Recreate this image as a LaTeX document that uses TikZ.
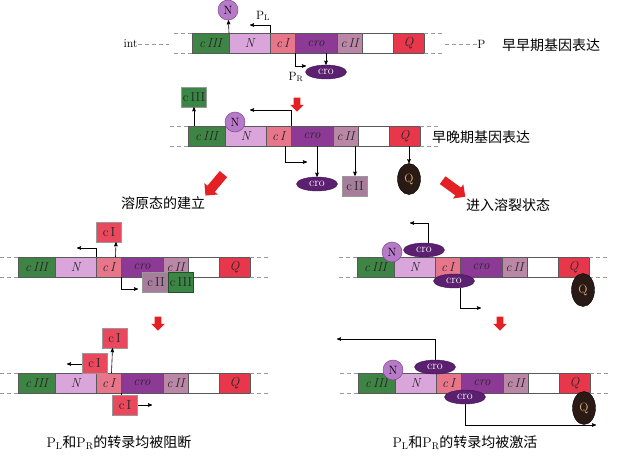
\documentclass[tikz,border=0pt]{standalone}
\usepackage{fontspec}
\newfontfamily\cjk{Noto Sans CJK SC}
\usetikzlibrary{arrows}
\usetikzlibrary{positioning}
\usetikzlibrary{shapes,shapes.geometric,shapes.arrows,calc}
\definecolor{gIII}{RGB}{62,132,68}
\definecolor{gN}{RGB}{218,165,218}
\definecolor{gI}{RGB}{232,118,138}
\definecolor{gcro}{RGB}{140,58,150}
\definecolor{gII}{RGB}{186,136,166}
\definecolor{gQ}{RGB}{232,55,75}
\definecolor{pN}{RGB}{182,122,200}
\definecolor{pcro}{RGB}{92,32,112}
\definecolor{pI}{RGB}{234,72,92}
\definecolor{pII}{RGB}{166,126,156}
\definecolor{pIII}{RGB}{58,134,68}
\definecolor{pQ}{RGB}{42,26,22}
\definecolor{tQ}{RGB}{222,172,112}
\definecolor{redarr}{RGB}{228,32,36}

\begin{document}
\begin{tikzpicture}[x=1pt,y=-1pt,>=stealth',line width=0.6pt,
  gene/.style={draw=gray!70!black,line width=0.4pt,minimum height=20,inner sep=0,outer sep=0,
    text=black!85,font=\fontsize{13}{15}\selectfont\itshape},
  dashline/.style={draw=gray!80,line width=0.5pt,dash pattern=on 4pt off 3pt},
  nprot/.style={circle,fill=pN,draw=pcro!80,line width=0.5pt,minimum size=20,inner sep=0,
    font=\fontsize{12}{14}\selectfont},
  croprot/.style={ellipse,fill=pcro,draw=pcro!70!black,line width=0.4pt,minimum width=41,minimum height=14,
    inner sep=0,text=white,font=\fontsize{12}{14}\selectfont},
  boxprot/.style={draw=black!40,line width=0.4pt,minimum width=25,minimum height=20,inner sep=0,
    text=black!85,font=\fontsize{13}{15}\selectfont},
  qprot/.style={ellipse,fill=pQ,draw=black,line width=0.4pt,minimum width=23,minimum height=31,
    inner sep=0,text=tQ,font=\fontsize{12}{14}\selectfont},
  redarrow/.style={single arrow,fill=redarr,draw=none,inner sep=3pt,minimum height=14,
    single arrow head extend=3.5pt,rotate=270},
  bigarrow/.style={single arrow,fill=redarr,draw=none,inner sep=4.5pt,minimum height=28,
    single arrow head extend=4pt},
  lbl/.style={inner sep=0,font=\fontsize{12}{14}\selectfont},
  cn/.style={inner sep=0,font=\fontsize{14}{16}\selectfont\cjk}]
\useasboundingbox (0,0) rectangle (618,460);

% early early genes
\node[gene,fill=gIII,minimum width=37,anchor=west] (a1) at (192,43.5) {c\,III};
\node[gene,fill=gN,minimum width=41,right=0pt of a1] (n1) {N};
\node[gene,fill=gI,minimum width=25,right=0pt of n1] (ci1) {c\,I};
\node[gene,fill=gcro,minimum width=42,right=0pt of ci1] (cro1) {cro};
\node[gene,fill=gII,minimum width=25,right=0pt of cro1] (cii1) {c\,II};
\node[gene,fill=white,minimum width=31,right=0pt of cii1] (e1) {};
\node[gene,fill=gQ,minimum width=31,right=0pt of e1] (q1) {Q};
\draw[dashline] (a1.north west) -- ++(-20,0) (a1.south west) -- ++(-20,0);
\draw[dashline] (q1.north east) -- ++(20,0) (q1.south east) -- ++(20,0);
\node[lbl,anchor=east] (int) at (138,44) {int};
\draw[dashline] (int.east) -- ++(31,0);
\node[lbl,anchor=west] (p) at (477,44) {P};
\draw[dashline] (p.west) -- ++(-32,0);
\node[cn] (t1) at (551,45) {早早期基因表达};

\node[nprot] (pn1) at (228,10) {N};
\draw[->] (a1.north east) -- (pn1);
\coordinate (pl1) at (250,25);
\draw[->] (ci1.north west) |- (pl1);
\node[lbl] (lpl1) at (263,16) {P$_\mathrm{L}$};
\node[croprot] (pc1) at (326,72) {cro};
\draw[->] (cro1.south -| pc1) -- (pc1);
\coordinate (pr1) at (306,66);
\draw[->] (ci1.south east) |- (pr1);
\node[lbl] (lpr1) at (296,77) {P$_\mathrm{R}$};

\node[redarrow] (ra1) at (297,103) {};

% delayed early genes
\node[gene,fill=gIII,minimum width=37,anchor=west] (a2) at (188,136) {c\,III};
\node[gene,fill=gN,minimum width=41,right=0pt of a2] (n2) {N};
\node[gene,fill=gI,minimum width=25,right=0pt of n2] (ci2) {c\,I};
\node[gene,fill=gcro,minimum width=42,right=0pt of ci2] (cro2) {cro};
\node[gene,fill=gII,minimum width=25,right=0pt of cro2] (cii2) {c\,II};
\node[gene,fill=white,minimum width=31,right=0pt of cii2] (e2) {};
\node[gene,fill=gQ,minimum width=31,right=0pt of e2] (q2) {Q};
\draw[dashline] (a2.north west) -- ++(-20,0) (a2.south west) -- ++(-20,0);
\draw[dashline] (q2.north east) -- ++(20,0) (q2.south east) -- ++(20,0);
\node[cn] (t2) at (481,137) {早晚期基因表达};

\node[boxprot,fill=pIII] (pa2) at (194,97) {c\,III};
\draw[->] (a2.north -| pa2) -- (pa2);
\node[nprot] (pn2) at (235,122) {N};
\coordinate (pl2) at (250,110);
\draw[->] (ci2.north east) |- (pl2);
\coordinate (pr2) at (307,162);
\draw[->] ([xshift=-6]ci2.south east) |- (pr2);
\node[croprot] (pc2) at (317,184) {cro};
\draw[->] (cro2.south -| pc2) -- (pc2);
\node[boxprot,fill=pII] (pb2) at (355,186) {c\,II};
\draw[->] (cii2.south -| pb2) -- (pb2);
\node[qprot] (pq2) at (409,179) {Q};
\draw[->] (q2.south -| pq2) -- (pq2);

\node[bigarrow,rotate=230] (ra2) at (216,183) {};
\node[bigarrow,rotate=324] (ra3) at (452,187) {};
\node[cn] (t3) at (163,203) {溶原态的建立};
\node[cn] (t4) at (508,205) {进入溶裂状态};

% lysogeny
\node[gene,fill=gIII,minimum width=37,anchor=west] (a3) at (18,267) {c\,III};
\node[gene,fill=gN,minimum width=41,right=0pt of a3] (n3) {N};
\node[gene,fill=gI,minimum width=25,right=0pt of n3] (ci3) {c\,I};
\node[gene,fill=gcro,minimum width=42,right=0pt of ci3] (cro3) {cro};
\node[gene,fill=gII,minimum width=25,right=0pt of cro3] (cii3) {c\,II};
\node[gene,fill=white,minimum width=31,right=0pt of cii3] (e3) {};
\node[gene,fill=gQ,minimum width=31,right=0pt of e3] (q3) {Q};
\draw[dashline] (a3.north west) -- ++(-20,0) (a3.south west) -- ++(-20,0);
\draw[dashline] (q3.north east) -- ++(20,0) (q3.south east) -- ++(20,0);

\node[boxprot,fill=pI] (pi3) at (109,232) {c\,I};
\draw[->] ([xshift=7]ci3.north) -- ([xshift=7]pi3.south);
\coordinate (pl3) at (77,248);
\draw[->] (ci3.north west) |- (pl3);
\coordinate (pr3) at (138,289);
\draw[->] (ci3.south east) |- (pr3);
\node[boxprot,fill=pII,minimum width=27] (pb3) at (156,282.5) {c\,II};
\node[boxprot,fill=pIII,draw=gIII!60!black] (pa3) at (181,282.5) {c\,III};

% lysis
\node[gene,fill=gIII,minimum width=37,anchor=west] (a4) at (357,267) {c\,III};
\node[gene,fill=gN,minimum width=41,right=0pt of a4] (n4) {N};
\node[gene,fill=gI,minimum width=25,right=0pt of n4] (ci4) {c\,I};
\node[gene,fill=gcro,minimum width=42,right=0pt of ci4] (cro4) {cro};
\node[gene,fill=gII,minimum width=25,right=0pt of cro4] (cii4) {c\,II};
\node[gene,fill=white,minimum width=31,right=0pt of cii4] (e4) {};
\node[gene,fill=gQ,minimum width=31,right=0pt of e4] (q4) {Q};
\draw[dashline] (a4.north west) -- ++(-20,0) (a4.south west) -- ++(-20,0);
\draw[dashline] (q4.north east) -- ++(20,0) (q4.south east) -- ++(20,0);

\node[nprot] (pn4) at (392,252) {N};
\node[croprot] (pc4) at (424,250) {cro};
\coordinate (pl4) at (410,223);
\draw[->] ([xshift=4]pc4.north) |- (pl4);
\node[croprot] (pc4b) at (454,281) {cro};
\coordinate (pr4) at (481,308);
\draw[->] ([xshift=6]pc4b.south) |- (pr4);
\node[qprot,minimum height=33] (pq4) at (583,290) {Q};

% repression
\node[redarrow] (ra4) at (158,322) {};
\node[gene,fill=gIII,minimum width=37,anchor=west] (a5) at (18,383) {c\,III};
\node[gene,fill=gN,minimum width=41,right=0pt of a5] (n5) {N};
\node[gene,fill=gI,minimum width=25,right=0pt of n5] (ci5) {c\,I};
\node[gene,fill=gcro,minimum width=42,right=0pt of ci5] (cro5) {cro};
\node[gene,fill=gII,minimum width=25,right=0pt of cro5] (cii5) {c\,II};
\node[gene,fill=white,minimum width=31,right=0pt of cii5] (e5) {};
\node[gene,fill=gQ,minimum width=31,right=0pt of e5] (q5) {Q};
\draw[dashline] (a5.north west) -- ++(-20,0) (a5.south west) -- ++(-20,0);
\draw[dashline] (q5.north east) -- ++(20,0) (q5.south east) -- ++(20,0);

\coordinate (pl5) at (67,364);
\draw[->] (ci5.north west) |- (pl5);
\coordinate (pr5) at (152,405);
\draw[->] (ci5.south east) |- (pr5);
\node[boxprot,fill=pI] (pi5a) at (114.5,338) {c\,I};
\draw[->] ([xshift=3]ci5.north) -- ([xshift=-2]pi5a.south);
\node[boxprot,fill=pI] (pi5b) at (94.5,363) {c\,I};
\node[boxprot,fill=pI] (pi5c) at (125,405) {c\,I};
\node[lbl,font=\fontsize{14}{16}\selectfont] (t5) at (119,443) {P$_\mathrm{L}${\cjk 和}P$_\mathrm{R}${\cjk 的转录均被阻断}};

% activation
\node[redarrow] (ra5) at (500,322) {};
\node[gene,fill=gIII,minimum width=37,anchor=west] (a6) at (358,383) {c\,III};
\node[gene,fill=gN,minimum width=41,right=0pt of a6] (n6) {N};
\node[gene,fill=gI,minimum width=25,right=0pt of n6] (ci6) {c\,I};
\node[gene,fill=gcro,minimum width=42,right=0pt of ci6] (cro6) {cro};
\node[gene,fill=gII,minimum width=25,right=0pt of cro6] (cii6) {c\,II};
\node[gene,fill=white,minimum width=31,right=0pt of cii6] (e6) {};
\node[gene,fill=gQ,minimum width=31,right=0pt of e6] (q6) {Q};
\draw[dashline] (a6.north west) -- ++(-20,0) (a6.south west) -- ++(-20,0);
\draw[dashline] (q6.north east) -- ++(20,0) (q6.south east) -- ++(20,0);

\node[nprot] (pn6) at (393,370) {N};
\node[croprot] (pc6) at (435,367) {cro};
\coordinate (pl6) at (337,339);
\draw[->] (pc6.north) |- (pl6);
\node[croprot] (pc6b) at (465,397) {cro};
\coordinate (pr6) at (596,425);
\draw[->] (pc6b.south) |- (pr6);
\node[qprot,minimum height=33] (pq6) at (584,408) {Q};
\node[lbl,font=\fontsize{14}{16}\selectfont] (t6) at (465,443) {P$_\mathrm{L}${\cjk 和}P$_\mathrm{R}${\cjk 的转录均被激活}};
\end{tikzpicture}
\end{document}
